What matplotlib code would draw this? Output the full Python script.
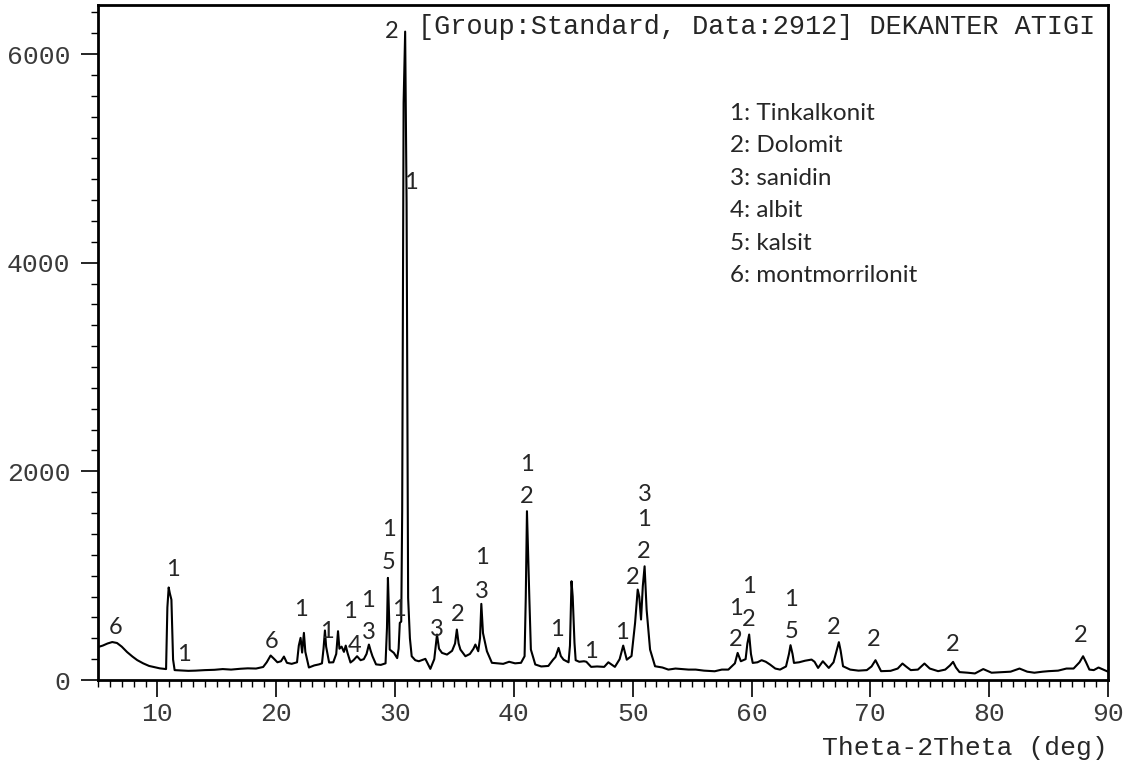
import matplotlib
matplotlib.use('Agg')
import matplotlib.pyplot as plt
from matplotlib.ticker import MultipleLocator

# --- XRD pattern (2theta in deg, intensity in counts) ---
two_theta = [
    5.0, 5.4, 5.8, 6.2, 6.6, 7.0, 7.45, 7.9, 8.3, 8.8, 9.3, 9.72, 10.2, 10.73,
    10.84, 10.95, 11.05, 11.18, 11.32, 11.45, 12.0, 12.6, 13.2, 14.0, 14.8,
    15.5, 16.2, 17.0, 17.6, 18.3, 18.9, 19.2, 19.53, 19.8, 20.1, 20.4, 20.65,
    20.9, 21.3, 21.75, 21.9, 22.05, 22.18, 22.33, 22.45, 22.75, 23.2, 23.6,
    23.85, 23.98, 24.1, 24.2, 24.45, 24.8, 25.05, 25.2, 25.32, 25.5, 25.7,
    25.85, 26.0, 26.25, 26.5, 26.8, 27.1, 27.37, 27.6, 27.8, 27.95, 28.1,
    28.4, 28.8, 29.2, 29.32, 29.4, 29.5, 29.55, 29.9, 30.18, 30.3, 30.4,
    30.52, 30.6, 30.72, 30.85, 30.97, 31.1, 31.25, 31.4, 31.7, 32.0, 32.55,
    32.97, 33.3, 33.53, 33.7, 33.95, 34.37, 34.8, 35.05, 35.2, 35.35, 35.5,
    35.92, 36.3, 36.6, 36.76, 37.0, 37.15, 37.26, 37.4, 37.73, 38.15, 38.6,
    39.1, 39.6, 40.1, 40.6, 40.9, 41.0, 41.1, 41.3, 41.43, 41.8, 42.3, 42.9,
    43.3, 43.5, 43.76, 43.95, 44.18, 44.6, 44.72, 44.85, 44.95, 45.1, 45.2,
    45.5, 45.9, 46.1, 46.5, 47.0, 47.6, 47.95, 48.5, 48.9, 49.2, 49.5, 49.9,
    50.2, 50.42, 50.55, 50.7, 50.85, 51.0, 51.17, 51.46, 51.88, 52.5, 53.0,
    53.6, 54.2, 54.7, 55.3, 56.0, 56.9, 57.5, 58.05, 58.6, 58.83, 59.1, 59.5,
    59.65, 59.8, 59.95, 60.1, 60.5, 60.85, 61.2, 61.56, 62.0, 62.4, 62.9,
    63.15, 63.28, 63.45, 63.57, 64.0, 64.5, 65.05, 65.3, 65.6, 66.0, 66.5,
    66.9, 67.2, 67.35, 67.5, 67.7, 68.3, 69.0, 69.7, 70.1, 70.43, 70.7, 70.9,
    71.7, 72.3, 72.7, 73.0, 73.4, 74.0, 74.55, 75.0, 75.7, 76.3, 76.7, 76.96,
    77.2, 77.5, 78.2, 78.8, 79.5, 80.2, 81.0, 81.8, 82.55, 83.2, 83.8, 84.5,
    85.0, 85.8, 86.5, 87.1, 87.6, 87.9, 88.15, 88.43, 88.8, 89.2, 89.6, 90.0,
]
intensity = [
    316, 330, 350, 364, 355, 320, 268, 225, 191, 160, 135, 124, 112, 105,
    695, 887, 830, 770, 196, 95, 92, 88, 90, 95, 98,
    105, 100, 108, 112, 110, 125, 170, 235, 205, 170, 180, 225,
    165, 155, 170, 330, 404, 263, 452, 270, 120, 140, 150,
    160, 300, 475, 320, 168, 170, 250, 468, 300, 320, 270,
    330, 260, 168, 190, 228, 190, 200, 250, 340, 280, 228,
    150, 145, 160, 500, 979, 600, 292, 260, 210, 300, 548,
    560, 1618, 5533, 6215, 4576, 788, 400, 228, 190, 180, 203,
    107, 200, 436, 300, 260, 244, 280, 350, 484, 350, 292,
    228, 250, 300, 340, 276, 400, 730, 450, 276, 165, 160,
    155, 175, 160, 165, 228, 788, 1618, 788, 292, 149, 130, 135,
    195, 220, 308, 230, 195, 170, 330, 947, 800, 356, 190,
    175, 180, 175, 126, 130, 126, 170, 126, 200, 330, 195, 230,
    548, 867, 800, 580, 900, 1090, 675, 292, 132, 120, 100,
    110, 105, 100, 100, 90, 84, 100, 100, 160, 260, 180, 200,
    350, 436, 250, 164, 170, 190, 175, 148, 110, 100, 130,
    250, 334, 250, 164, 170, 185, 196, 175, 116, 180, 116,
    170, 300, 363, 280, 132, 100, 90, 95, 130, 190, 130, 85,
    88, 110, 158, 130, 95, 100, 158, 110, 85, 100, 140, 174,
    120, 76, 70, 63, 105, 70, 75, 80, 110, 80, 70, 80,
    85, 90, 110, 110, 170, 228, 170, 100, 95, 120, 100, 80,
]

# phase numbers written above the peaks
peak_x = [6.45, 11.3, 12.2, 19.6, 22.06, 24.25, 26.2, 26.6, 27.7, 27.8,
          29.45, 29.45, 30.3, 29.7, 31.3, 33.4, 33.5, 35.27, 37.3, 37.3,
          41.07, 41.07, 43.6, 46.45, 49.1, 50.0, 51.0, 50.9, 50.9,
          58.65, 58.65, 59.75, 59.75, 63.34, 63.34, 66.95, 70.24, 76.96, 87.7]
peak_y = [503, 1058, 245, 369, 676, 465, 656, 330, 762, 455,
          1442, 1126, 676, 6215, 4768, 800, 484, 628, 1174, 848,
          2065, 1758, 484, 273, 455, 982, 1778, 1538, 1231,
          685, 388, 896, 580, 771, 465, 503, 388, 340, 426]
peak_lbl = ['6', '1', '1', '6', '1', '1', '1', '4', '1', '3',
            '1', '5', '1', '2', '1', '1', '3', '2', '1', '3',
            '1', '2', '1', '1', '1', '2', '3', '1', '2',
            '1', '2', '1', '2', '1', '5', '2', '2', '2', '2']

phases = ['1: Tinkalkonit', '2: Dolomit', '3: sanidin', '4: albit',
          '5: kalsit', '6: montmorrilonit']

MONO = 'Liberation Mono'
SANS = 'Lato'
TXT = '#262626'

fig = plt.figure(figsize=(11.34, 7.69), dpi=100)
ax = fig.add_axes([0.0864, 0.1157, 0.8907, 0.8778])

ax.plot(two_theta, intensity, color='black', lw=1.5)

for x, y, s in zip(peak_x, peak_y, peak_lbl):
    ax.text(x, y, s, ha='center', va='center', fontsize=17,
            family=SANS, color=TXT)

# legend of phases
for i, p in enumerate(phases):
    ax.text(0.6257, 0.840 - i * 0.0482, p, transform=ax.transAxes,
            ha='left', va='center', fontsize=17.5, family=SANS, color=TXT)

ax.text(0.987, 0.967, '[Group:Standard, Data:2912] DEKANTER ATIGI',
        transform=ax.transAxes, ha='right', va='center',
        fontsize=19.4, family=MONO, color=TXT)

ax.set_xlim(5, 90)
ax.set_ylim(0, 6470)
ax.xaxis.set_major_locator(MultipleLocator(10))
ax.xaxis.set_minor_locator(MultipleLocator(1))
ax.yaxis.set_major_locator(MultipleLocator(2000))
ax.yaxis.set_minor_locator(MultipleLocator(200))

ax.tick_params(which='major', length=12, width=1.2, direction='out',
               labelsize=19, colors='black', pad=4)
ax.tick_params(which='minor', length=5, width=1.0, direction='out')
ax.tick_params(axis='y', which='major', pad=8)
for lab in ax.get_xticklabels() + ax.get_yticklabels():
    lab.set_family(MONO)
    lab.set_color('#3a3a3a')

for sp in ax.spines.values():
    sp.set_linewidth(2)

fig.text(0.977, 0.027, 'Theta-2Theta (deg)', ha='right', va='center',
         fontsize=19, family=MONO, color=TXT)

fig.savefig('out.png', dpi=100)
